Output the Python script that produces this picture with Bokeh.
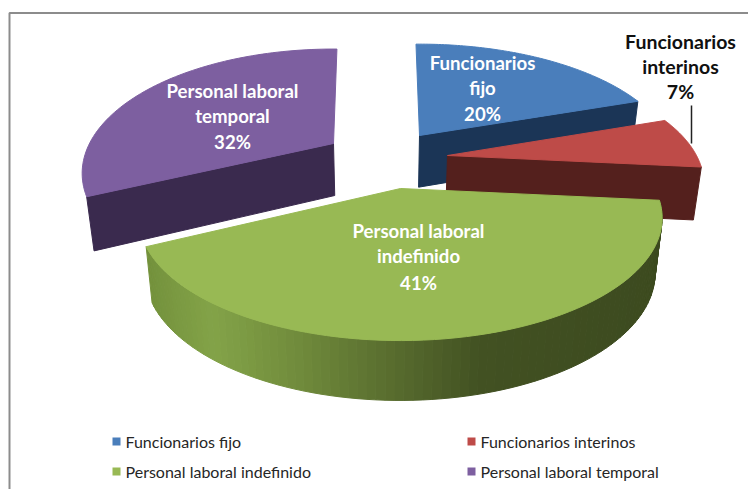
import numpy as np
from bokeh.plotting import figure
from bokeh.models import Range1d
from bokeh.embed import file_html
from bokeh.resources import INLINE

categories = ["Funcionarios fijo", "Funcionarios interinos", "Personal laboral indefinido", "Personal laboral temporal"]
percent = [20, 7, 41, 32]
top_colors = ["#4a7ebb", "#be4b48", "#98b954", "#7d5fa0"]
side_colors = ["#1b3556", "#54201d", "#6f8a38", "#3a2a4e"]

W, H = 748, 489
p = figure(width=W, height=H, output_backend="svg", toolbar_location=None,
           x_range=Range1d(0, W), y_range=Range1d(H, 0), min_border=0)
p.axis.visible = False
p.grid.visible = False
p.outline_line_color = None
p.background_fill_color = "white"
p.border_fill_color = "white"

# layout of the projected pie
CX, CY = 382, 157
PERSP = 0.24
RADII = [249, 249, 254, 244]
FLAT = [0.455, 0.455, 0.455, 0.48]
TURN = [-1.0, -1.5, -1.5, 1.0]
EXPLODE = [(37, -22), (65, -2), (18, 31), (-49, -14)]

edges = np.cumsum([0] + percent) * 3.6


def project(theta, i):
    ox, oy = CX + EXPLODE[i][0], CY + EXPLODE[i][1]
    s = 1 + PERSP * np.cos(theta)
    return ox + RADII[i] * np.sin(theta) / s, oy - RADII[i] * FLAT[i] * np.cos(theta) / s


def lower(x, y):
    return CX + (x - CX) * 0.975, y + 52 + (y - 143) * 0.04


def span(i):
    return np.radians(edges[i] + TURN[i]), np.radians(edges[i + 1] + TURN[i])


p.line(x=[9, 9, 748], y=[489, 12.5, 12.5], line_color="#8c8c8c", line_width=2)


def radial_face(i, theta, color):
    ox, oy = CX + EXPLODE[i][0], CY + EXPLODE[i][1]
    ex, ey = project(theta, i)
    ax2, ay2 = lower(ox, oy)
    ex2, ey2 = lower(ex, ey)
    p.patch([ox, ex, ex2, ax2], [oy, ey, ey2, ay2], fill_color=color, line_color=color)


def outer_side(i, color_fn, steps):
    t0, t1 = span(i)
    ts = np.linspace(t0, t1, steps + 1)
    for a, b in zip(ts[:-1], ts[1:]):
        xa, ya = project(a, i)
        xb, yb = project(b, i)
        xa2, ya2 = lower(xa, ya)
        xb2, yb2 = lower(xb, yb)
        c = color_fn((xa + xb) / 2)
        p.patch([xa, xb, xb2, xa2], [ya, yb, yb2, ya2], fill_color=c, line_color=c)


def top_face(i):
    ox, oy = CX + EXPLODE[i][0], CY + EXPLODE[i][1]
    t0, t1 = span(i)
    xs, ys = project(np.linspace(t0, t1, 80), i)
    p.patch(np.r_[ox, xs], np.r_[oy, ys], fill_color=top_colors[i], line_color=top_colors[i])


def green_side(x):
    stops_x = [140, 210, 280, 400, 480, 670]
    r = np.interp(x, stops_x, [0x72, 0x83, 0x74, 0x56, 0x42, 0x3c])
    g = np.interp(x, stops_x, [0x90, 0xa3, 0x90, 0x6a, 0x51, 0x4a])
    b = np.interp(x, stops_x, [0x3b, 0x48, 0x3e, 0x2d, 0x22, 0x1f])
    return "#%02x%02x%02x" % (round(r), round(g), round(b))


# back to front: blue, purple, red, green
radial_face(0, span(0)[1], side_colors[0])
top_face(0)
radial_face(3, span(3)[0], side_colors[3])
top_face(3)
radial_face(1, span(1)[1], side_colors[1])
top_face(1)
outer_side(2, green_side, 90)
top_face(2)

label_lines = [
    (["Funcionarios", "fijo", "20%"], 482, [62, 87, 113], "white", "18.6px"),
    (["Funcionarios", "interinos", "7%"], 680, [41, 66, 91], "#101010", "19.5px"),
    (["Personal laboral", "indefinido", "41%"], 418, [230, 255, 282], "white", "18.6px"),
    (["Personal laboral", "temporal", "32%"], 232, [90, 115, 141], "white", "18.6px"),
]
for lines, x, ys, col, size in label_lines:
    p.text(x=[x] * 3, y=ys, text=lines, text_color=col, text_align="center", text_baseline="middle",
           text_font={"value": "Lato"}, text_font_style="bold", text_font_size=size)

p.line(x=[691, 691], y=[105, 143], line_color="#222222", line_width=1.5)

leg_x = [116, 471, 116, 471]
leg_y = [441, 441, 471, 471]
p.scatter(x=leg_x, y=leg_y, size=8, marker="square", fill_color=top_colors, line_color=None)
p.text(x=[v + 9 for v in leg_x], y=leg_y, text=categories, text_color="#262626", text_baseline="middle",
       text_font={"value": "Lato"}, text_font_size="16px")

open("out.html", "w").write(file_html(p, INLINE))
